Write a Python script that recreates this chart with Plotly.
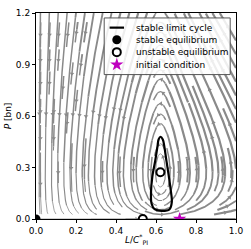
import math
import plotly.graph_objects as go

# ---------------- values ----------------
x_range = [0.0, 1.0]
p_range = [0.0, 1.2]
x_ticks = [0.0, 0.2, 0.4, 0.6, 0.8, 1.0]
p_ticks = [0.0, 0.3, 0.6, 0.9, 1.2]

# equilibria and initial condition (L/C*_PI, P in bn)
stable_eq_x = [0.0]
stable_eq_p = [0.0]
unstable_eq_x = [0.534, 0.622]
unstable_eq_p = [0.0, 0.272]
init_x = [0.718]
init_p = [0.0]

# stable limit cycle
cycle_x = [0.622, 0.634, 0.642, 0.652, 0.664, 0.673, 0.679, 0.668, 0.627,
           0.593, 0.578, 0.575, 0.582, 0.596, 0.607, 0.613, 0.622]
cycle_p = [0.479, 0.463, 0.420, 0.340, 0.250, 0.174, 0.098, 0.057, 0.047,
           0.057, 0.089, 0.155, 0.250, 0.338, 0.420, 0.463, 0.479]

legend_labels = ['stable limit cycle', 'stable equilibrium',
                 'unstable equilibrium', 'initial condition']
x_title = '<i>L</i>/<i>C</i><sup>*</sup><sub>PI</sub>'
y_title = '<i>P</i> [bn]'

# ---------------- vector-field model for the stream lines ----------------
x_star = unstable_eq_x[1]
p_star = unstable_eq_p[1]
alpha = 0.7      # response of L/C to population
b_max = 1.0      # max. population growth rate
b_width = 0.04   # width of growth-rate transition around x_star


def field(x, p):
    u = x * alpha * (p_star - p)
    v = p * b_max * math.tanh((x - x_star) / b_width)
    return u, v


def timescale(x, p):
    # time rescaling (does not change the stream lines, only the speed)
    return (0.5 + x) / (p + 0.2)


XM = x_range[1]
PM = p_range[1]
NM = 46
mask = [[False] * NM for _ in range(NM)]
ds = 0.004
maxlen = 4.0
minlen = 0.1


def direction(X, Y, sgn):
    u, v = field(X * XM, Y * PM)
    du = u / XM
    dv = v / PM
    s = math.hypot(du, dv)
    if s < 1e-14:
        return None
    return sgn * du / s, sgn * dv / s


def cell(X, Y):
    i = min(max(int(X * NM), 0), NM - 1)
    j = min(max(int(Y * NM), 0), NM - 1)
    return j, i


def integrate_dir(X0, Y0, sgn, cells):
    pts = []
    X, Y = X0, Y0
    cur = cell(X, Y)
    L = 0.0
    while L < maxlen:
        d1 = direction(X, Y, sgn)
        if d1 is None:
            break
        Xm = X + 0.5 * ds * d1[0]
        Ym = Y + 0.5 * ds * d1[1]
        if not (0 <= Xm <= 1 and 0 <= Ym <= 1):
            break
        d2 = direction(Xm, Ym, sgn)
        if d2 is None:
            break
        Xn = X + ds * d2[0]
        Yn = Y + ds * d2[1]
        if not (0 <= Xn <= 1 and 0 <= Yn <= 1):
            break
        c = cell(Xn, Yn)
        if c != cur:
            if mask[c[0]][c[1]]:
                break
            mask[c[0]][c[1]] = True
            cells.append(c)
            cur = c
        X, Y = Xn, Yn
        pts.append((X, Y))
        L += ds
    return pts, L


def spiral(n):
    xfirst, yfirst = 0, 1
    xlast, ylast = n - 1, n - 1
    x, y = 0, 0
    d = 'right'
    for _ in range(n * n):
        yield x, y
        if d == 'right':
            x += 1
            if x >= xlast:
                xlast -= 1
                d = 'up'
        elif d == 'up':
            y += 1
            if y >= ylast:
                ylast -= 1
                d = 'left'
        elif d == 'left':
            x -= 1
            if x <= xfirst:
                xfirst += 1
                d = 'down'
        else:
            y -= 1
            if y <= yfirst:
                yfirst += 1
                d = 'right'


streamlines = []
for xm, ym in spiral(NM):
    X0 = xm / (NM - 1)
    Y0 = ym / (NM - 1)
    c0 = cell(X0, Y0)
    if mask[c0[0]][c0[1]]:
        continue
    mask[c0[0]][c0[1]] = True
    cells = [c0]
    back, lb = integrate_dir(X0, Y0, -1, cells)
    fwd, lf = integrate_dir(X0, Y0, 1, cells)
    if lb + lf < minlen:
        for c in cells:
            mask[c[0]][c[1]] = False
        continue
    line = back[::-1] + [(X0, Y0)] + fwd
    streamlines.append([(X * XM, Y * PM) for X, Y in line])


def speed(x, p):
    u, v = field(x, p)
    return math.hypot(u, v) * timescale(x, p)


s_ref = 1.0
width_bins = [0.8, 1.15, 1.5, 1.85, 2.2]
nb = len(width_bins)
bin_x = [[] for _ in range(nb)]
bin_y = [[] for _ in range(nb)]
for ln in streamlines:
    bins = [min(nb - 1, int(nb * min(0.999, speed(x, p) / s_ref))) for x, p in ln]
    start = 0
    for k in range(1, len(ln) + 1):
        if k == len(ln) or bins[k] != bins[start]:
            seg = ln[start:min(k + 1, len(ln))]
            b = bins[start]
            bin_x[b].extend([q[0] for q in seg] + [None])
            bin_y[b].extend([q[1] for q in seg] + [None])
            start = k

line_color = '#8a8a8a'
fig = go.Figure()
for b in range(nb):
    fig.add_trace(go.Scatter(x=bin_x[b], y=bin_y[b], mode='lines',
                             line=dict(color=line_color, width=width_bins[b]),
                             hoverinfo='skip', showlegend=False))

# arrows at the middle of each stream line
ax_, ay_, aang = [], [], []
px_per_x = 208.0 / XM
px_per_p = 211.0 / PM
for ln in streamlines:
    m = len(ln) // 2
    if m + 1 >= len(ln):
        continue
    (x1, p1), (x2, p2) = ln[m], ln[m + 1]
    dxp = (x2 - x1) * px_per_x
    dyp = (p2 - p1) * px_per_p
    ax_.append(x1)
    ay_.append(p1)
    aang.append(math.degrees(math.atan2(dxp, dyp)))
fig.add_trace(go.Scatter(x=ax_, y=ay_, mode='markers',
                         marker=dict(symbol='triangle-up', size=4, angle=aang,
                                     color=line_color, line=dict(width=0)),
                         hoverinfo='skip', showlegend=False))

cycle_style = dict(color='black', width=2.2)
stable_style = dict(symbol='circle', size=9, color='black')
unstable_style = dict(symbol='circle', size=8, color='white',
                      line=dict(color='black', width=2))
init_style = dict(symbol='star', size=10, color='#bf00bf', line=dict(width=0))

fig.add_trace(go.Scatter(x=cycle_x, y=cycle_p, mode='lines', showlegend=False,
                         hoverinfo='skip',
                         line=dict(shape='spline', smoothing=1.0, **cycle_style)))
fig.add_trace(go.Scatter(x=stable_eq_x, y=stable_eq_p, mode='markers', showlegend=False,
                         hoverinfo='skip', marker=stable_style))
fig.add_trace(go.Scatter(x=unstable_eq_x, y=unstable_eq_p, mode='markers', showlegend=False,
                         hoverinfo='skip', marker=unstable_style))
fig.add_trace(go.Scatter(x=init_x, y=init_p, mode='markers', showlegend=False,
                         hoverinfo='skip', marker=init_style))

# ---------------- legend (drawn in axes-fraction coordinates) ----------------
box_l, box_r, box_t, box_b = 0.341, 0.971, 0.976, 0.701
row_y = [0.929, 0.870, 0.810, 0.749]
sym_x = 0.404
sym_half = 0.036
text_x = 0.490
leg = dict(xaxis='x2', yaxis='y2', hoverinfo='skip', showlegend=False, cliponaxis=False)
fig.add_trace(go.Scatter(x=[box_l, box_r, box_r, box_l, box_l],
                         y=[box_b, box_b, box_t, box_t, box_b], mode='lines',
                         fill='toself', fillcolor='rgba(255,255,255,0.85)',
                         line=dict(color='#555555', width=1), **leg))
fig.add_trace(go.Scatter(x=[sym_x - sym_half, sym_x + sym_half], y=[row_y[0], row_y[0]],
                         mode='lines', line=cycle_style, **leg))
fig.add_trace(go.Scatter(x=[sym_x], y=[row_y[1]], mode='markers', marker=stable_style, **leg))
fig.add_trace(go.Scatter(x=[sym_x], y=[row_y[2]], mode='markers', marker=unstable_style, **leg))
fig.add_trace(go.Scatter(x=[sym_x], y=[row_y[3]], mode='markers', marker=init_style, **leg))
for lab, yy in zip(legend_labels, row_y):
    fig.add_annotation(x=text_x, y=yy, xref='paper', yref='paper', text=lab,
                       showarrow=False, xanchor='left', yanchor='middle',
                       font=dict(size=9, color='black'))

# x axis title
fig.add_annotation(x=0.5, y=-0.10, xref='paper', yref='paper', text=x_title,
                   showarrow=False, xanchor='center', yanchor='middle',
                   font=dict(size=9, color='black'))

axis_common = dict(showline=True, mirror=True, linecolor='black', linewidth=1,
                   ticks='outside', ticklen=3, tickwidth=1, tickcolor='black',
                   showgrid=False, zeroline=False, tickformat='.1f',
                   tickfont=dict(size=9, color='black'))
fig.update_xaxes(range=x_range, tickvals=x_ticks, **axis_common)
fig.update_yaxes(range=p_range, tickvals=p_ticks,
                 title=dict(text=y_title, font=dict(size=9, color='black'), standoff=2),
                 **axis_common)
fig.update_layout(
    width=251, height=249,
    margin=dict(l=33, r=10, t=8, b=30),
    paper_bgcolor='white', plot_bgcolor='white',
    font=dict(family='DejaVu Sans', size=9, color='black'),
    showlegend=False,
    hovermode=False,
    xaxis2=dict(overlaying='x', range=[0, 1], visible=False, fixedrange=True),
    yaxis2=dict(overlaying='y', range=[0, 1], visible=False, fixedrange=True),
)
fig.write_html('out.html',
               config={'displayModeBar': False, 'staticPlot': True},
               post_script="document.body.style.margin='0px';"
                           "document.body.style.overflow='hidden';")
